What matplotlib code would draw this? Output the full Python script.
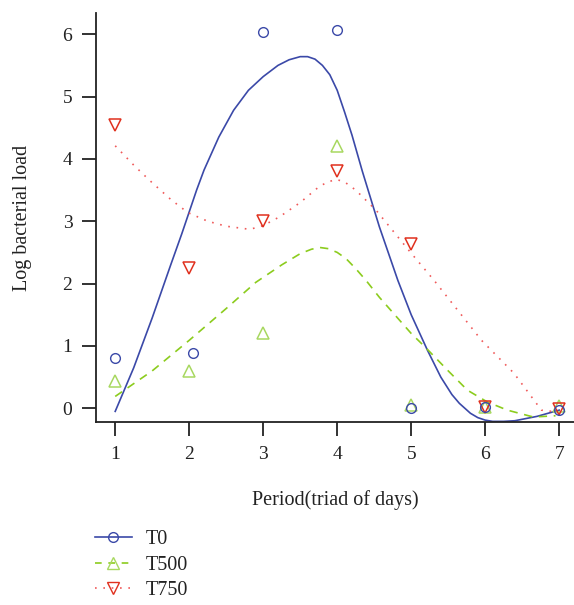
import matplotlib
matplotlib.use("Agg")
import matplotlib.pyplot as plt
from matplotlib.lines import Line2D

plt.rcParams['font.family'] = ['Liberation Serif', 'DejaVu Serif']

period = [1, 2, 3, 4, 5, 6, 7]
t0 = [0.81, 0.88, 6.04, 6.06, 0.0, 0.02, -0.02]
t500 = [0.43, 0.59, 1.2, 4.2, 0.05, 0.02, 0.03]
t750 = [4.55, 2.25, 3.0, 3.8, 2.64, 0.02, -0.01]
t0_x = [1, 2.05, 3, 4, 5, 6, 7]

# smooth fit curves
t0_fit_x = [1.0, 1.25, 1.5, 1.75, 1.9, 2.0, 2.1, 2.2, 2.4, 2.6, 2.8, 3.0, 3.2, 3.35, 3.5,
            3.6, 3.7, 3.8, 3.9, 4.0, 4.1, 4.2, 4.34, 4.57, 4.82, 5.0, 5.22, 5.4, 5.55,
            5.65, 5.8, 5.9, 6.0, 6.1, 6.25, 6.4, 6.7, 7.0]
t0_fit_y = [-0.05, 0.65, 1.45, 2.3, 2.8, 3.15, 3.5, 3.82, 4.35, 4.78, 5.1, 5.32, 5.5, 5.59,
            5.64, 5.64, 5.6, 5.5, 5.35, 5.1, 4.75, 4.38, 3.8, 2.91, 2.05, 1.5, 0.93, 0.5,
            0.22, 0.08, -0.08, -0.15, -0.19, -0.21, -0.21, -0.2, -0.13, -0.03]
t500_fit_x = [1.0, 1.5, 2.0, 2.5, 2.9, 3.25, 3.5, 3.65, 3.76, 3.88, 4.0, 4.12, 4.25, 4.39,
              4.57, 5.0, 5.19, 5.5, 5.76, 6.03, 6.3, 6.65, 6.95]
t500_fit_y = [0.19, 0.6, 1.09, 1.6, 2.02, 2.3, 2.48, 2.55, 2.58, 2.56, 2.5, 2.4, 2.24, 2.05,
              1.78, 1.2, 0.98, 0.6, 0.29, 0.1, -0.03, -0.14, -0.12]
t750_fit_x = [1.0, 1.25, 1.47, 1.75, 1.98, 2.25, 2.5, 2.82, 3.0, 3.22, 3.5, 3.75, 3.87, 3.99,
              4.1, 4.25, 4.53, 4.75, 4.97, 5.31, 5.49, 5.95, 6.39, 6.76, 6.9]
t750_fit_y = [4.21, 3.9, 3.65, 3.35, 3.14, 3.0, 2.92, 2.87, 2.93, 3.07, 3.3, 3.55, 3.63, 3.67,
              3.63, 3.5, 3.17, 2.85, 2.53, 2.05, 1.78, 1.09, 0.56, -0.03, -0.05]

blue = '#3b49a8'
green_line = '#8ccc1e'
green_mk = '#a8d860'
red_mk = '#e0301e'
red_line = '#f05a5a'

fig = plt.figure(figsize=(5.74, 6.05), dpi=100)
ax = fig.add_axes([0.1672, 0.3025, 0.8328, 0.676])

ax.plot(t0_fit_x, t0_fit_y, color=blue, lw=1.2)
ax.plot(t500_fit_x, t500_fit_y, color=green_line, lw=1.2, ls=(0, (5, 4)))
ax.plot(t750_fit_x, t750_fit_y, color=red_line, lw=1.2, ls=(0, (1, 4)))

ax.plot(period, t500, ls='none', marker='^', ms=9, mfc='none', mec=green_mk, mew=1.1)
ax.plot(period, t750, ls='none', marker='v', ms=9, mfc='none', mec=red_mk, mew=1.1)
ax.plot(t0_x, t0, ls='none', marker='o', ms=7, mfc='none', mec=blue, mew=1.0)

ax.set_xlim(0.74, 7.2)
ax.set_ylim(-0.22, 6.34)
ax.set_xticks(period)
ax.set_yticks([0, 1, 2, 3, 4, 5, 6])
for s in ['top', 'right']:
    ax.spines[s].set_visible(False)
for s in ['left', 'bottom']:
    ax.spines[s].set_linewidth(1.3)
    ax.spines[s].set_color('#222222')
ax.tick_params(length=10, width=1.3, color='#222222', labelsize=14, pad=7, labelcolor='#222222')

ax.set_xlabel('Period(triad of days)', fontsize=14.5, labelpad=20, color='#222222')
ax.set_ylabel('Log bacterial load', fontsize=14.5, labelpad=22, color='#222222')

handles = [
    Line2D([], [], color=blue, lw=1.2, marker='o', ms=7, mfc='none', mec=blue),
    Line2D([], [], color=green_line, lw=1.2, ls=(0, (4, 4)), marker='^', ms=9, mfc='none', mec=green_mk),
    Line2D([], [], color=red_line, lw=1.2, ls=(0, (1, 4)), marker='v', ms=9, mfc='none', mec=red_mk),
]
fig.legend(handles, ['T0', 'T500', 'T750'], loc='upper left', bbox_to_anchor=(0.165, 0.124),
           frameon=False, fontsize=14.5, handlelength=1.85, handletextpad=0.7,
           labelspacing=0.32, borderpad=0, borderaxespad=0, labelcolor='#222222')

fig.savefig('out.png', dpi=100)
